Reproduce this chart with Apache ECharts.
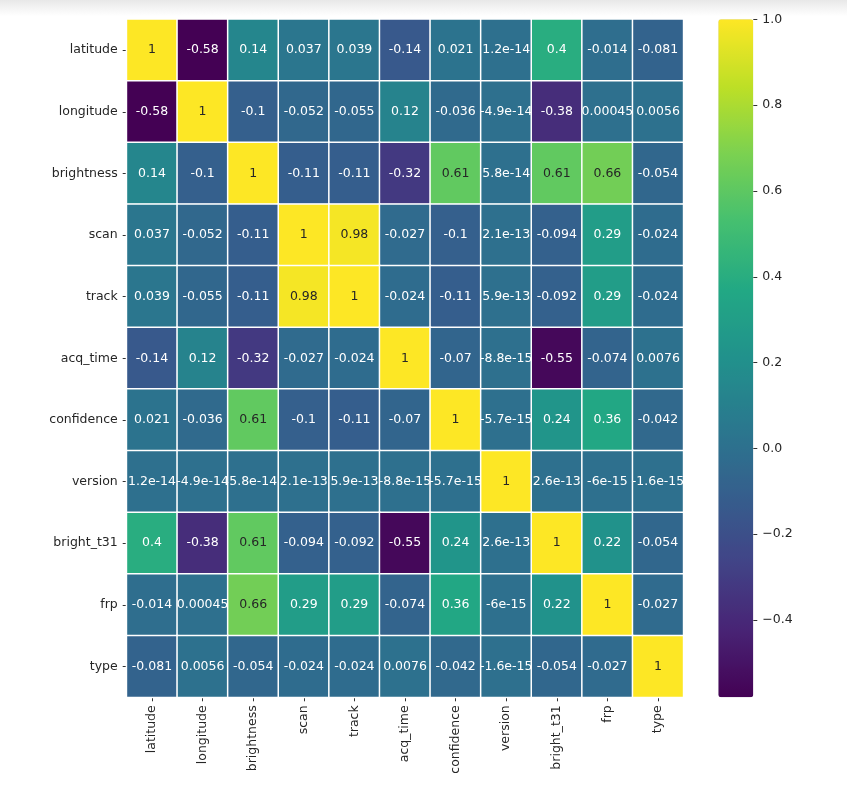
<!DOCTYPE html>
<html>
<head>
<meta charset="utf-8">
<script src="https://cdn.jsdelivr.net/npm/echarts@6/dist/echarts.min.js"></script>
<style>html,body{margin:0;padding:0;background:#fff;}#c{width:847px;height:797px;}</style>
</head>
<body>
<div id="c"></div>
<script>
const labels = ['latitude','longitude','brightness','scan','track','acq_time','confidence','version','bright_t31','frp','type'];
const rowLatitude   = [1, -0.58, 0.14, 0.037, 0.039, -0.14, 0.021, 1.2e-14, 0.4, -0.014, -0.081];
const rowLongitude  = [-0.58, 1, -0.1, -0.052, -0.055, 0.12, -0.036, -4.9e-14, -0.38, 0.00045, 0.0056];
const rowBrightness = [0.14, -0.1, 1, -0.11, -0.11, -0.32, 0.61, 5.8e-14, 0.61, 0.66, -0.054];
const rowScan       = [0.037, -0.052, -0.11, 1, 0.98, -0.027, -0.1, 2.1e-13, -0.094, 0.29, -0.024];
const rowTrack      = [0.039, -0.055, -0.11, 0.98, 1, -0.024, -0.11, 5.9e-13, -0.092, 0.29, -0.024];
const rowAcqTime    = [-0.14, 0.12, -0.32, -0.027, -0.024, 1, -0.07, -8.8e-15, -0.55, -0.074, 0.0076];
const rowConfidence = [0.021, -0.036, 0.61, -0.1, -0.11, -0.07, 1, -5.7e-15, 0.24, 0.36, -0.042];
const rowVersion    = [1.2e-14, -4.9e-14, 5.8e-14, 2.1e-13, 5.9e-13, -8.8e-15, -5.7e-15, 1, 2.6e-13, -6e-15, -1.6e-15];
const rowBrightT31  = [0.4, -0.38, 0.61, -0.094, -0.092, -0.55, 0.24, 2.6e-13, 1, 0.22, -0.054];
const rowFrp        = [-0.014, 0.00045, 0.66, 0.29, 0.29, -0.074, 0.36, -6e-15, 0.22, 1, -0.027];
const rowType       = [-0.081, 0.0056, -0.054, -0.024, -0.024, 0.0076, -0.042, -1.6e-15, -0.054, -0.027, 1];
const matrix = [rowLatitude,rowLongitude,rowBrightness,rowScan,rowTrack,rowAcqTime,rowConfidence,rowVersion,rowBrightT31,rowFrp,rowType];
const colorbarTicks = [-0.4,-0.2,0,0.2,0.4,0.6,0.8,1.0];
const vmin = -0.58, vmax = 1;

const viridis = ['#440154','#482475','#414487','#355f8d','#2a788e','#21918c','#22a884','#44bf70','#7ad151','#bddf26','#fde725'];

function fmt(v){
  if (v !== 0 && Math.abs(v) < 1e-4) {
    return v.toExponential(1).replace('.0e','e');
  }
  return String(parseFloat(v.toPrecision(2)));
}

const data = [];
matrix.forEach((row, r) => {
  row.forEach((v, c) => {
    data.push({value:[c, r, v], label:{color: v > 0.5 ? '#262626' : '#ffffff'}});
  });
});

const FONT = 'DejaVu Sans';
const FS = 12.5;
const chart = echarts.init(document.getElementById('c'), null, {renderer:'canvas'});
chart.setOption({
  animation:false,
  backgroundColor:'#ffffff',
  textStyle:{fontFamily:FONT},
  graphic:[{
    type:'rect', left:0, top:0, shape:{width:847, height:16}, silent:true,
    style:{fill:new echarts.graphic.LinearGradient(0,0,0,1,[{offset:0,color:'#e8e8e8'},{offset:1,color:'#ffffff'}])}
  }],
  grid:[
    {left:126.7, top:19.3, width:556.6, height:678, containLabel:false},
    {left:753.3, top:19.3, width:1, height:678, containLabel:false}
  ],
  xAxis:[
    {type:'category', gridIndex:0, data:labels, position:'bottom',
     axisLine:{show:false}, splitLine:{show:false},
     axisTick:{show:true, alignWithLabel:true, length:4, lineStyle:{color:'#333', width:1}},
     axisLabel:{rotate:90, margin:8, fontSize:FS, color:'#262626', fontFamily:FONT, interval:0}},
    {type:'value', gridIndex:1, show:false, min:0, max:1}
  ],
  yAxis:[
    {type:'category', gridIndex:0, data:labels, inverse:true,
     axisLine:{show:false}, splitLine:{show:false},
     axisTick:{show:true, alignWithLabel:true, length:4, lineStyle:{color:'#333', width:1}},
     axisLabel:{margin:9, fontSize:FS, color:'#262626', fontFamily:FONT, interval:0}},
    {type:'value', gridIndex:1, position:'right', min:vmin, max:vmax, z:10,
     axisLine:{show:false}, splitLine:{show:false},
     axisTick:{show:true, inside:false, length:4, customValues:colorbarTicks, lineStyle:{color:'#333', width:1}},
     axisLabel:{show:true, margin:8, fontSize:FS, color:'#262626', fontFamily:FONT, customValues:colorbarTicks,
       formatter:function(v){ return v.toFixed(1).replace('-', '\u2212'); }}}
  ],
  visualMap:{
    type:'continuous', min:vmin, max:vmax, seriesIndex:0, calculable:false,
    orient:'vertical', left:718.3, top:19.3, itemWidth:35, itemHeight:678,
    padding:0, text:null, showLabel:false, hoverLink:false,
    inRange:{color:viridis}
  },
  series:[{
    type:'heatmap', xAxisIndex:0, yAxisIndex:0, data:data,
    itemStyle:{borderColor:'#ffffff', borderWidth:1.5},
    label:{show:true, fontSize:FS, fontFamily:FONT,
      formatter:function(p){ return fmt(p.value[2]); }},
    emphasis:{disabled:true}
  }]
});
</script>
</body>
</html>
